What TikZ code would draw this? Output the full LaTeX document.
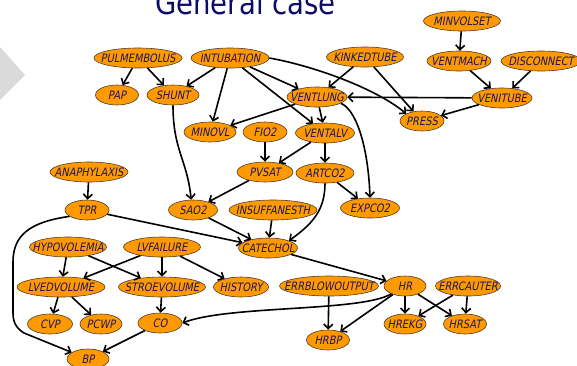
\documentclass[tikz,border=0pt]{standalone}
\usepackage{fontspec}
\usetikzlibrary{shapes.geometric,arrows.meta}
\newfontfamily\nodefont{DejaVu Sans}[FakeStretch=0.85,FakeSlant=0.2]
\newfontfamily\titlefont{DejaVu Sans}[FakeStretch=0.86]
\definecolor{nodeorange}{RGB}{255,153,0}
\definecolor{nodeborder}{RGB}{80,60,40}
\definecolor{nodetext}{RGB}{30,20,95}
\definecolor{titleblue}{RGB}{12,12,105}
\definecolor{chevron}{RGB}{218,218,218}
\newcommand\bnode[5]{\node[enode,minimum width=#4pt,label={[etext]center:#5}] (#1) at (#2,#3) {};}
\begin{document}
\begin{tikzpicture}[x=1pt,y=-1pt,
  enode/.style={ellipse,draw=nodeborder,line width=0.6pt,fill=nodeorange,minimum height=20pt,inner sep=0pt},
  etext/.style={inner sep=0pt,text=nodetext,font=\nodefont\fontsize{11.6}{12}\selectfont},
  arr/.style={draw=black,line width=1.6pt,-{Straight Barb[length=4.5pt,width=9pt]}}]
\useasboundingbox (0,0) rectangle (577,365);
\fill[chevron] (0,47) -- (25,75) -- (0,100) -- cycle;
\node[anchor=base west,inner sep=0pt,text=titleblue,font=\titlefont\fontsize{32}{34}\selectfont] (title) at (155,14) {General case};
% nodes
\bnode{MINVOLSET}{462}{21}{77}{MINVOLSET}
\bnode{PULMEMBOLUS}{138}{58}{88}{PULMEMBOLUS}
\bnode{INTUBATION}{230}{58}{78}{INTUBATION}
\bnode{KINKEDTUBE}{365}{57}{77}{KINKEDTUBE}
\bnode{VENTMACH}{459}{61}{64}{VENTMACH}
\bnode{DISCONNECT}{541}{61}{80}{DISCONNECT}
\bnode{PAP}{117}{95}{43}{PAP}
\bnode{SHUNT}{173}{95}{52}{SHUNT}
\bnode{VENTLUNG}{317}{97}{60}{VENTLUNG}
\bnode{VENITUBE}{502}{98}{60}{VENITUBE}
\bnode{PRESS}{422}{121}{44}{PRESS}
\bnode{MINOVL}{210}{132}{52}{MINOVL}
\bnode{FIO2}{265}{132}{44}{FIO2}
\bnode{VENTALV}{325}{133}{59}{VENTALV}
\bnode{ANAPHYLAXIS}{89}{172}{78}{ANAPHYLAXIS}
\bnode{PVSAT}{265}{172}{56}{PVSAT}
\bnode{ARTCO2}{325}{173}{58}{ARTCO2}
\bnode{TPR}{87}{210}{44}{TPR}
\bnode{SAO2}{193}{210}{49}{SAO2}
\bnode{INSUFFANESTH}{273}{210}{88}{INSUFFANESTH}
\bnode{EXPCO2}{370}{208}{59}{EXPCO2}
\bnode{HYPOVOLEMIA}{68}{247}{77}{HYPOVOLEMIA}
\bnode{LVFAILURE}{162}{247}{77}{LVFAILURE}
\bnode{CATECHOL}{268}{248}{59}{CATECHOL}
\bnode{LVEDVOLUME}{61}{287}{88}{LVEDVOLUME}
\bnode{STROEVOLUME}{162}{287}{87}{STROEVOLUME}
\bnode{HISTORY}{241}{287}{55}{HISTORY}
\bnode{ERRBLOWOUTPUT}{329}{286}{99}{ERRBLOWOUTPUT}
\bnode{HR}{405}{286}{42}{HR}
\bnode{ERRCAUTER}{468}{286}{65}{ERRCAUTER}
\bnode{CVP}{50}{324}{45}{CVP}
\bnode{PCWP}{101}{324}{42}{PCWP}
\bnode{CO}{160}{323}{44}{CO}
\bnode{HREKG}{405}{324}{42}{HREKG}
\bnode{HRSAT}{465}{324}{43}{HRSAT}
\bnode{HRBP}{328}{340}{43}{HRBP}
\bnode{BP}{88}{359}{42}{BP}
% edges
\draw[arr] (MINVOLSET) -- (VENTMACH);
\draw[arr] (VENTMACH) -- (VENITUBE);
\draw[arr] (DISCONNECT) -- (VENITUBE);
\draw[arr] (VENITUBE) -- (VENTLUNG);
\draw[arr] (VENITUBE) -- (PRESS);
\draw[arr] (KINKEDTUBE) -- (VENTLUNG);
\draw[arr] (KINKEDTUBE) -- (PRESS);
\draw[arr] (INTUBATION.east) .. controls +(45,8) and +(-30,-25) .. (PRESS.north west);
\draw[arr] (INTUBATION) -- (SHUNT);
\draw[arr] (INTUBATION) -- (MINOVL);
\draw[arr] (INTUBATION) -- (VENTLUNG);
\draw[arr] (INTUBATION) -- (VENTALV);
\draw[arr] (PULMEMBOLUS) -- (PAP);
\draw[arr] (PULMEMBOLUS) -- (SHUNT);
\draw[arr] (VENTLUNG) -- (MINOVL);
\draw[arr] (VENTLUNG) -- (VENTALV);
\draw[arr] (VENTLUNG.-15) .. controls +(14,5) and +(-2,-55) .. (EXPCO2.north);
\draw[arr] (SHUNT.south) .. controls +(0,45) and +(-4,-40) .. (SAO2.100);
\draw[arr] (FIO2) -- (PVSAT);
\draw[arr] (VENTALV) -- (PVSAT);
\draw[arr] (VENTALV) -- (ARTCO2);
\draw[arr] (PVSAT) -- (SAO2);
\draw[arr] (ARTCO2) -- (EXPCO2);
\draw[arr] (ARTCO2.south) .. controls +(0,28) and +(22,-16) .. (CATECHOL.north east);
\draw[arr] (SAO2) -- (CATECHOL);
\draw[arr] (INSUFFANESTH) -- (CATECHOL);
\draw[arr] (TPR) -- (CATECHOL);
\draw[arr] (ANAPHYLAXIS) -- (TPR);
\draw[arr] (TPR.200) .. controls (30,222) and (13,235) .. (13,262) -- (13,313) .. controls (13,322) and (16,328) .. (24,333) -- (BP);
\draw[arr] (CATECHOL) -- (HR);
\draw[arr] (HYPOVOLEMIA) -- (LVEDVOLUME);
\draw[arr] (HYPOVOLEMIA) -- (STROEVOLUME);
\draw[arr] (LVFAILURE) -- (LVEDVOLUME);
\draw[arr] (LVFAILURE) -- (STROEVOLUME);
\draw[arr] (LVFAILURE) -- (HISTORY);
\draw[arr] (LVEDVOLUME) -- (CVP);
\draw[arr] (LVEDVOLUME) -- (PCWP);
\draw[arr] (STROEVOLUME) -- (CO);
\draw[arr] (HR.210) .. controls (360,312) and (230,305) .. (CO.east);
\draw[arr] (CO) -- (BP);
\draw[arr] (ERRBLOWOUTPUT) -- (HRBP);
\draw[arr] (HR) -- (HRBP);
\draw[arr] (HR) -- (HREKG);
\draw[arr] (HR) -- (HRSAT);
\draw[arr] (ERRCAUTER) -- (HREKG);
\draw[arr] (ERRCAUTER) -- (HRSAT);
\end{tikzpicture}
\end{document}
